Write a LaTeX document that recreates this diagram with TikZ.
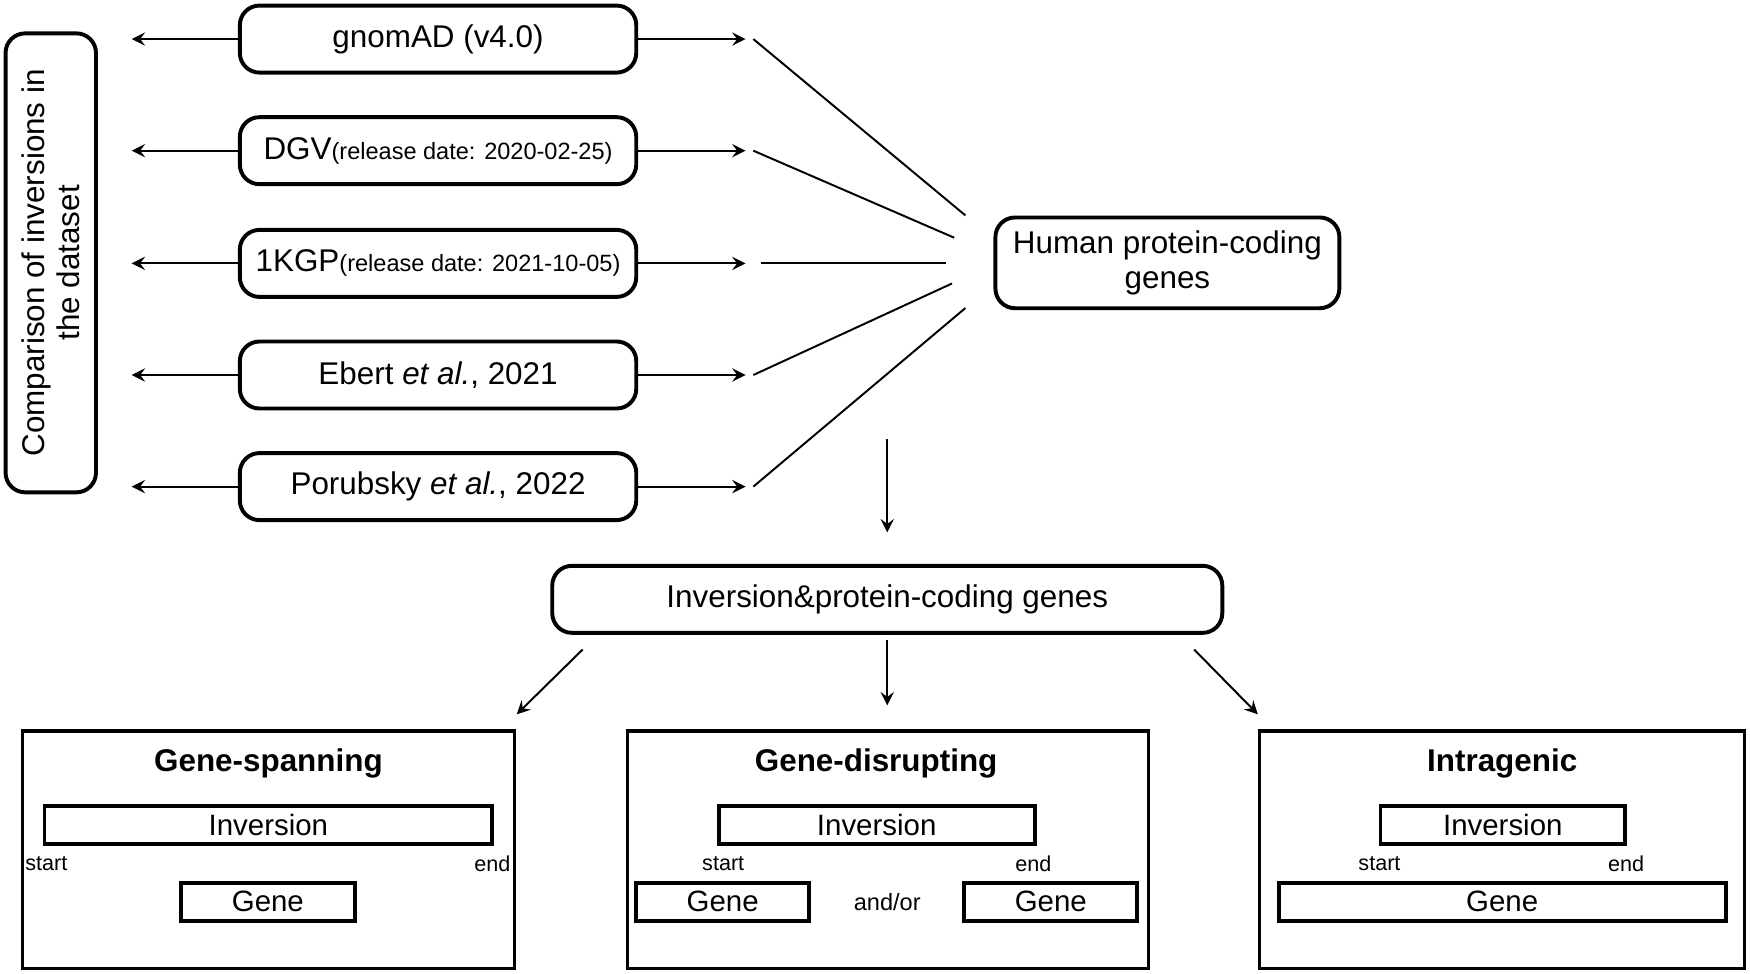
\documentclass[tikz,border=0pt]{standalone}
\usepackage{fontspec}
\setmainfont{Liberation Sans}
\usetikzlibrary{positioning}
\begin{document}
\begin{tikzpicture}[x=0.01cm,y=-0.01cm]

% definitions
\tikzstyle{source} = [rectangle, rounded corners=5pt, minimum width=3.55cm, minimum height=0.6cm, draw=black, line width=1pt, font=\fontsize{8}{9}\selectfont]
\tikzstyle{target} = [rectangle, rounded corners=5pt, draw=black, line width=1pt, font=\fontsize{8}{9}\selectfont, align=center]
\tikzstyle{panel} = [rectangle, draw=black, line width=0.8pt, minimum height=2.13cm]
\tikzstyle{bar} = [rectangle, draw=black, line width=1pt, minimum height=0.34cm, inner sep=0pt, font=\fontsize{7.5}{8}\selectfont]
\tikzstyle{tag} = [font=\fontsize{5.5}{6}\selectfont, inner sep=0pt]
\tikzstyle{title} = [font=\bfseries\fontsize{8}{9}\selectfont]
\tikzstyle{arrow} = [->,>=stealth, line width=0.5pt]
\tikzstyle{link} = [line width=0.5pt]

\useasboundingbox (0,0) rectangle (1568,872);

% the graph
\node (cmp) [target, minimum width=0.81cm, minimum height=4.11cm] at (45.5,235.5) {};
\node [rotate=90, align=center, font=\fontsize{8}{9}\selectfont] at (45.5,235.5) {Comparison of inversions in\\the dataset};

\node (s1) [source] at (392.5,35) {gnomAD (v4.0)};
\node (s2) [source] at (392.5,135) {DGV{\fontsize{6}{7}\selectfont(release date: 2020-02-25)}};
\node (s3) [source] at (392.5,236) {1KGP{\fontsize{6}{7}\selectfont(release date: 2021-10-05)}};
\node (s4) [source] at (392.5,336) {Ebert \textit{et al.}, 2021};
\node (s5) [source] at (392.5,436) {Porubsky \textit{et al.}, 2022};

\node (hum) [target, minimum width=3.08cm, minimum height=0.81cm] at (1046,235.5) {Human protein-coding\\genes};
\node (inv) [target, minimum width=6cm, minimum height=0.6cm] at (795,537) {Inversion\&protein-coding genes};

\foreach \i/\y in {1/35,2/135,3/236,4/336,5/436} {
  \coordinate (l\i) at (118,\y);
  \coordinate (r\i) at (668,\y);
  \draw [arrow] (s\i.west) -- (l\i);
  \draw [arrow] (s\i.east) -- (r\i);
}

\coordinate (a1) at (675,35);  \coordinate (b1) at (865,193);
\coordinate (a2) at (675,135); \coordinate (b2) at (855,213);
\coordinate (a3) at (682,236); \coordinate (b3) at (848,236);
\coordinate (a4) at (675,336); \coordinate (b4) at (853,254);
\coordinate (a5) at (675,436); \coordinate (b5) at (865,276);
\foreach \i in {1,...,5} \draw [link] (a\i) -- (b\i);

\coordinate (h0) at (795,393); \coordinate (h1) at (795,477);
\draw [arrow] (h0) -- (h1);

\node (p1) [panel, minimum width=4.41cm] at (240.5,761.5) {};
\node (p2) [panel, minimum width=4.67cm] at (795.5,761.5) {};
\node (p3) [panel, minimum width=4.34cm] at (1346,761.5) {};

\coordinate (i1) at (522,582);  \coordinate (j1) at (463,640);
\coordinate (i2) at (795,573);  \coordinate (j2) at (795,632);
\coordinate (i3) at (1070,582); \coordinate (j3) at (1127,640);
\foreach \i in {1,2,3} \draw [arrow] (i\i) -- (j\i);

% gene-spanning
\node [title] at (240.5,684) {Gene-spanning};
\node (v1) [bar, minimum width=4.01cm] at (240.5,739) {Inversion};
\node [tag, anchor=west] at (22,774) {start};
\node [tag, anchor=east] at (458,774) {end};
\node (g1) [bar, minimum width=1.56cm] at (240,808) {Gene};

% gene-disrupting
\node [title] at (785,684) {Gene-disrupting};
\node (v2) [bar, minimum width=2.83cm] at (785.5,739) {Inversion};
\node [tag] at (648,774) {start};
\node [tag] at (926,774) {end};
\node (g2) [bar, minimum width=1.55cm] at (647.5,808) {Gene};
\node [tag, font=\fontsize{6}{7}\selectfont] at (795,808) {and/or};
\node (g3) [bar, minimum width=1.55cm] at (941.5,808) {Gene};

% intragenic
\node [title] at (1346,684) {Intragenic};
\node (v3) [bar, minimum width=2.19cm] at (1346.5,739) {Inversion};
\node [tag] at (1236,774) {start};
\node [tag] at (1457,774) {end};
\node (g4) [bar, minimum width=4cm] at (1346,808) {Gene};

\end{tikzpicture}
\end{document}
